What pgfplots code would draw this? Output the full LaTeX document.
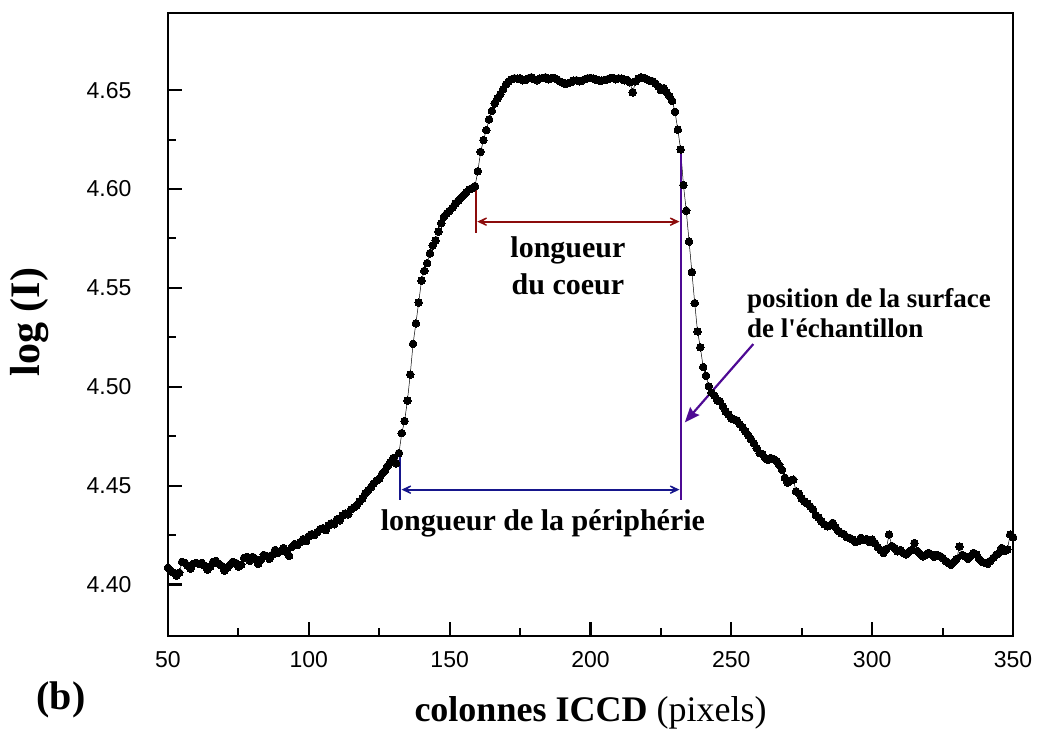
\documentclass[border=0pt]{standalone}
\usepackage{pgfplots}
\pgfplotsset{compat=1.18}
\usepackage{fontspec}
\setmainfont{Liberation Serif}
\newfontfamily\tickfont{Liberation Sans}
\usetikzlibrary{arrows.meta}
\definecolor{cred}{RGB}{140,12,12}
\definecolor{cblue}{RGB}{22,22,140}
\definecolor{cpurple}{RGB}{78,10,148}
\pgfplotstableread{
x y
50 4.4085
51 4.4070
52 4.4060
53 4.4045
54 4.4060
55 4.4115
56 4.4110
57 4.4095
58 4.4080
59 4.4105
60 4.4110
61 4.4105
62 4.4110
63 4.4095
64 4.4075
65 4.4090
66 4.4115
67 4.4120
68 4.4105
69 4.4095
70 4.4070
71 4.4085
72 4.4100
73 4.4115
74 4.4110
75 4.4090
76 4.4100
77 4.4135
78 4.4140
79 4.4120
80 4.4140
81 4.4130
82 4.4105
83 4.4125
84 4.4150
85 4.4145
86 4.4130
87 4.4150
88 4.4175
89 4.4160
90 4.4170
91 4.4185
92 4.4165
93 4.4145
94 4.4190
95 4.4205
96 4.4200
97 4.4215
98 4.4230
99 4.4220
100 4.4245
101 4.4255
102 4.4250
103 4.4265
104 4.4280
105 4.4285
106 4.4275
107 4.4300
108 4.4310
109 4.4305
110 4.4330
111 4.4325
112 4.4350
113 4.4360
114 4.4355
115 4.4380
116 4.4390
117 4.4400
118 4.4420
119 4.4435
120 4.4460
121 4.4475
122 4.4490
123 4.4510
124 4.4525
125 4.4535
126 4.4560
127 4.4575
128 4.4600
129 4.4620
130 4.4640
131 4.4612
132 4.4665
133 4.4766
134 4.4827
135 4.4930
136 4.5062
137 4.5217
138 4.5320
139 4.5426
140 4.5537
141 4.5586
142 4.5625
143 4.5675
144 4.5715
145 4.5740
146 4.5785
147 4.5827
148 4.5860
149 4.5877
150 4.5890
151 4.5905
152 4.5927
153 4.5940
154 4.5955
155 4.5970
156 4.5985
157 4.5998
158 4.6005
159 4.6015
160 4.6090
161 4.6188
162 4.6247
163 4.6298
164 4.6352
165 4.6395
166 4.6433
167 4.6458
168 4.6480
169 4.6505
170 4.6530
171 4.6545
172 4.6555
173 4.6560
174 4.6558
175 4.6560
176 4.6550
177 4.6552
178 4.6560
179 4.6565
180 4.6555
181 4.6550
182 4.6558
183 4.6562
184 4.6565
185 4.6555
186 4.6560
187 4.6562
188 4.6555
189 4.6545
190 4.6538
191 4.6532
192 4.6535
193 4.6540
194 4.6548
195 4.6550
196 4.6545
197 4.6548
198 4.6555
199 4.6560
200 4.6562
201 4.6558
202 4.6552
203 4.6550
204 4.6548
205 4.6552
206 4.6555
207 4.6560
208 4.6562
209 4.6555
210 4.6560
211 4.6558
212 4.6550
213 4.6552
214 4.6540
215 4.6488
216 4.6545
217 4.6558
218 4.6565
219 4.6562
220 4.6555
221 4.6548
222 4.6545
223 4.6535
224 4.6520
225 4.6500
226 4.6510
227 4.6490
228 4.6470
229 4.6446
230 4.6390
231 4.6300
232 4.6200
233 4.6020
234 4.5890
235 4.5734
236 4.5580
237 4.5423
238 4.5280
239 4.5200
240 4.5100
241 4.5056
242 4.5002
243 4.4970
244 4.4955
245 4.4930
246 4.4925
247 4.4900
248 4.4875
249 4.4860
250 4.4840
251 4.4835
252 4.4830
253 4.4810
254 4.4795
255 4.4775
256 4.4755
257 4.4735
258 4.4715
259 4.4690
260 4.4665
261 4.4660
262 4.4640
263 4.4630
264 4.4640
265 4.4635
266 4.4625
267 4.4605
268 4.4580
269 4.4540
270 4.4515
271 4.4525
272 4.4530
273 4.4470
274 4.4460
275 4.4435
276 4.4420
277 4.4410
278 4.4395
279 4.4380
280 4.4350
281 4.4340
282 4.4320
283 4.4305
284 4.4295
285 4.4300
286 4.4312
287 4.4290
288 4.4270
289 4.4260
290 4.4255
291 4.4240
292 4.4236
293 4.4227
294 4.4215
295 4.4220
296 4.4236
297 4.4225
298 4.4230
299 4.4215
300 4.4227
301 4.4210
302 4.4190
303 4.4175
304 4.4160
305 4.4180
306 4.4253
307 4.4195
308 4.4185
309 4.4168
310 4.4175
311 4.4160
312 4.4152
313 4.4165
314 4.4175
315 4.4210
316 4.4170
317 4.4155
318 4.4143
319 4.4150
320 4.4160
321 4.4152
322 4.4140
323 4.4150
324 4.4145
325 4.4135
326 4.4120
327 4.4110
328 4.4100
329 4.4115
330 4.4130
331 4.4193
332 4.4150
333 4.4143
334 4.4130
335 4.4145
336 4.4160
337 4.4152
338 4.4130
339 4.4115
340 4.4110
341 4.4105
342 4.4120
343 4.4135
344 4.4150
345 4.4160
346 4.4185
347 4.4170
348 4.4177
349 4.4253
350 4.4240
}\profile
\begin{document}
\begin{tikzpicture}
\begin{axis}[
  width=845pt, height=623pt, scale only axis,
  xmin=50, xmax=350, ymin=4.374, ymax=4.689,
  axis line style={line width=2.6pt},
  tick align=inside,
  xtick={50,100,...,350}, minor x tick num=1,
  ytick={4.40,4.45,4.50,4.55,4.60,4.65}, minor y tick num=1,
  major tick length=14pt, minor tick length=8pt,
  major tick style={black, line width=2.2pt},
  minor tick style={black, line width=2pt},
  xtick pos=bottom, ytick pos=left,
  /pgf/number format/assume math mode=true,
  yticklabel style={/pgf/number format/fixed, /pgf/number format/precision=2, /pgf/number format/fixed zerofill, font=\tickfont\fontsize{23}{23}\selectfont, xshift=-33pt},
  xticklabel style={font=\tickfont\fontsize{23}{23}\selectfont, yshift=-12pt},
  scaled y ticks=false,
  xlabel={\fontsize{36}{40}\selectfont\textbf{colonnes ICCD} (pixels)},
  xlabel style={at={(axis description cs:0.5,-0.1236)}, anchor=center},
  ylabel={\fontsize{42}{44}\selectfont\textbf{log (I)}},
  ylabel style={at={(axis description cs:-0.1633,0.504)}, anchor=center},
]
\addplot[black, line width=0.5pt, mark=*, mark size=3.8pt, mark options={fill=black, line width=0pt}] table[x=x,y=y] {\profile};
% core length
\draw[cred, line width=2.6pt] (axis cs:159.3,4.602) -- (axis cs:159.3,4.578);
\draw[cred, line width=2pt, {Stealth[length=16pt,width=15pt,inset=11pt]}-{Stealth[length=16pt,width=15pt,inset=11pt]}] (axis cs:159.8,4.5835) -- (axis cs:231.6,4.5835);
% periphery length
\draw[cblue, line width=2.6pt] (axis cs:132.4,4.4667) -- (axis cs:132.4,4.443);
\draw[cblue, line width=2pt, {Stealth[length=16pt,width=15pt,inset=11pt]}-{Stealth[length=16pt,width=15pt,inset=11pt]}] (axis cs:132.9,4.448) -- (axis cs:231.6,4.448);
% surface
\draw[cpurple, line width=2.8pt] (axis cs:232.1,4.6197) -- (axis cs:232.1,4.443);
\draw[cpurple, line width=2.2pt, -{Stealth[length=15pt,width=12pt,inset=2pt]}] (axis cs:257.8,4.5216) -- (axis cs:233.5,4.482);
\node[align=center, font=\bfseries\fontsize{30}{37}\selectfont] at (axis cs:192,4.561) {longueur\\du coeur};
\node[align=left, anchor=west, font=\bfseries\fontsize{27}{30}\selectfont, inner sep=0pt] at (axis cs:255.5,4.5374) {position de la surface\\de l\textquotesingle échantillon};
\node[font=\bfseries\fontsize{30}{36}\selectfont] at (axis cs:183.1,4.4308) {longueur de la périphérie};
\end{axis}
\node[font=\bfseries\fontsize{40}{42}\selectfont] at (-107pt,-64pt) {(b)};
\pgfresetboundingbox
\path (-168pt,-97pt) rectangle (869pt,636pt);
\end{tikzpicture}
\end{document}
